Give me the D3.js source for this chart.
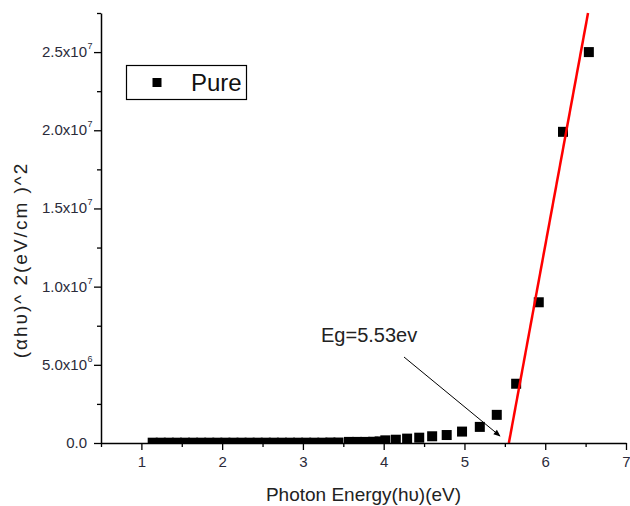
<!DOCTYPE html>
<html>
<head>
<meta charset="utf-8">
<script src="https://cdn.jsdelivr.net/npm/d3@7"></script>
<style>
  body { margin: 0; background: #fff; }
  svg { font-family: "Liberation Sans", Arial, sans-serif; }
</style>
</head>
<body>
<svg id="chart" width="630" height="506"></svg>
<script>
// data
var energy = [1.14, 1.24, 1.34, 1.44, 1.54, 1.64, 1.74, 1.84, 1.94, 2.04, 2.14, 2.24,
  2.34, 2.44, 2.54, 2.64, 2.74, 2.84, 2.94, 3.04, 3.14, 3.24, 3.34, 3.44,
  3.57, 3.67, 3.77, 3.87, 3.95, 4.02, 4.15, 4.29, 4.44, 4.60, 4.78, 4.97,
  5.19, 5.40, 5.64, 5.92, 6.22, 6.54];
var absorb = [0.02e6, 0.02e6, 0.02e6, 0.02e6, 0.02e6, 0.02e6, 0.02e6, 0.02e6, 0.02e6, 0.02e6, 0.02e6, 0.02e6,
  0.02e6, 0.02e6, 0.02e6, 0.02e6, 0.02e6, 0.02e6, 0.02e6, 0.02e6, 0.02e6, 0.02e6, 0.03e6, 0.03e6,
  0.07e6, 0.07e6, 0.07e6, 0.08e6, 0.1e6, 0.17e6, 0.21e6, 0.28e6, 0.34e6, 0.43e6, 0.51e6, 0.73e6,
  1.03e6, 1.8e6, 3.79e6, 9.0e6, 1.99e7, 2.5e7];

// linear fit (red)
var fitX = [5.55, 6.53];
var fitY = [0, 2.75e7];

var xTicks = [1, 2, 3, 4, 5, 6, 7];
var xMinor = [0.5, 1.5, 2.5, 3.5, 4.5, 5.5, 6.5];
var yTicks = [0, 5e6, 1e7, 1.5e7, 2e7, 2.5e7];
var yMinor = [2.5e6, 7.5e6, 1.25e7, 1.75e7, 2.25e7, 2.75e7];
var yTickMant = ["0.0", "5.0x10", "1.0x10", "1.5x10", "2.0x10", "2.5x10"];
var yTickExp = ["", "6", "7", "7", "7", "7"];

var svg = d3.select("#chart");
var pLeft = 101, pRight = 626, pTop = 13, pBottom = 443;

var x = d3.scaleLinear().domain([0.5, 7]).range([pLeft, pRight]);
var y = d3.scaleLinear().domain([0, 2.75e7]).range([pBottom, pTop]);

var defs = svg.append("defs");
defs.append("clipPath").attr("id", "plotclip")
  .append("rect").attr("x", pLeft).attr("y", 0)
  .attr("width", pRight - pLeft + 10).attr("height", pBottom);

defs.append("marker").attr("id", "arrow")
  .attr("viewBox", "0 0 10 10").attr("refX", 9).attr("refY", 5)
  .attr("markerWidth", 9).attr("markerHeight", 7).attr("orient", "auto")
  .attr("markerUnits", "userSpaceOnUse")
  .append("path").attr("d", "M0,1 L10,5 L0,9 Z").attr("fill", "#000");

// points
svg.append("g").attr("clip-path", "url(#plotclip)")
  .selectAll("rect")
  .data(energy)
  .enter()
  .append("rect")
    .attr("x", d => x(d) - 5)
    .attr("y", (d, i) => y(absorb[i]) - 5)
    .attr("width", 10)
    .attr("height", 10)
    .attr("fill", "#000");

// fit line
svg.append("line")
  .attr("x1", x(fitX[0])).attr("y1", y(fitY[0]))
  .attr("x2", x(fitX[1])).attr("y2", y(fitY[1]))
  .attr("stroke", "#ff0000")
  .attr("stroke-width", 2.5);

// axes
var xAxis = svg.append("g").attr("transform", "translate(0," + pBottom + ")")
  .call(d3.axisBottom(x).tickValues(xTicks).tickSize(7).tickSizeOuter(0).tickFormat(d3.format("d")));
xAxis.selectAll(".tick line").attr("stroke-width", 1.3);
xAxis.selectAll(".tick text").attr("font-size", 15).attr("fill", "#2b2b3a").attr("dy", "0.95em");
xAxis.select(".domain").attr("stroke-width", 1.5);

svg.append("g").attr("transform", "translate(0," + pBottom + ")")
  .call(d3.axisBottom(x).tickValues(xMinor).tickSize(4).tickFormat(""))
  .call(g => g.select(".domain").remove())
  .selectAll(".tick line").attr("stroke-width", 1.3);

var yAxis = svg.append("g").attr("transform", "translate(" + pLeft + ",0)")
  .call(d3.axisLeft(y).tickValues(yTicks).tickSize(7).tickSizeOuter(0).tickFormat(""));
yAxis.selectAll(".tick line").attr("stroke-width", 1.3);
yAxis.select(".domain").attr("stroke-width", 1.5);

svg.append("g").attr("transform", "translate(" + pLeft + ",0)")
  .call(d3.axisLeft(y).tickValues(yMinor).tickSize(4).tickFormat(""))
  .call(g => g.select(".domain").remove())
  .selectAll(".tick line").attr("stroke-width", 1.3);

// y tick labels with superscripts
var yl = svg.append("g").attr("fill", "#2b2b3a");
yTicks.forEach((v, i) => {
  yl.append("text")
    .attr("x", 87).attr("y", y(v) + 5)
    .attr("text-anchor", "end")
    .attr("font-size", 15)
    .text(yTickMant[i]);
  if (yTickExp[i]) {
    yl.append("text")
      .attr("x", 87.5).attr("y", y(v) - 3)
      .attr("font-size", 9)
      .text(yTickExp[i]);
  }
});

// axis titles
svg.append("text")
  .attr("x", (pLeft + pRight) / 2).attr("y", 501)
  .attr("text-anchor", "middle")
  .attr("font-size", 19)
  .attr("fill", "#222")
  .text("Photon Energy(h\u03c5)(eV)");

svg.append("text")
  .attr("transform", "translate(27,260) rotate(-90)")
  .attr("text-anchor", "middle")
  .attr("font-size", 19)
  .attr("letter-spacing", 2)
  .attr("fill", "#222")
  .text("(\u03b1h\u03c5)^ 2(eV/cm )^2");

// legend
svg.append("rect")
  .attr("x", 126.5).attr("y", 65.5).attr("width", 120).attr("height", 34)
  .attr("fill", "#fff").attr("stroke", "#000").attr("stroke-width", 1.2);
svg.append("rect")
  .attr("x", 152.5).attr("y", 78).attr("width", 9).attr("height", 9)
  .attr("fill", "#000");
svg.append("text")
  .attr("x", 191).attr("y", 91)
  .attr("font-size", 24)
  .attr("fill", "#111")
  .text("Pure");

// annotation
svg.append("text")
  .attr("x", 321).attr("y", 342)
  .attr("font-size", 20)
  .attr("fill", "#222")
  .text("Eg=5.53ev");
svg.append("line")
  .attr("x1", 404).attr("y1", 357)
  .attr("x2", 500).attr("y2", 436)
  .attr("stroke", "#000").attr("stroke-width", 1)
  .attr("marker-end", "url(#arrow)");
</script>
</body>
</html>
